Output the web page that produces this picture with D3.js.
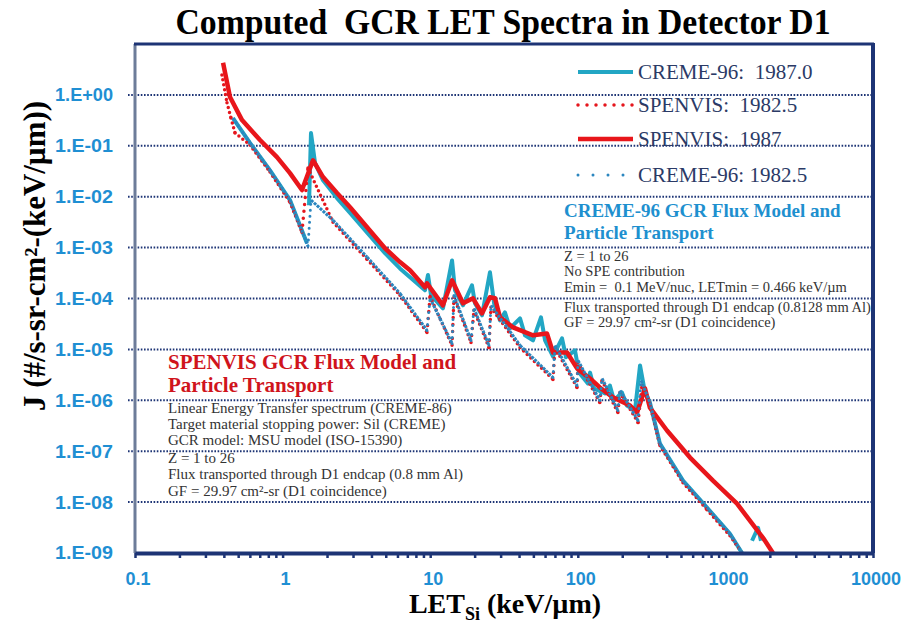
<!DOCTYPE html>
<html>
<head>
<meta charset="utf-8">
<script src="https://cdn.jsdelivr.net/npm/d3@7"></script>
<style>
  body { margin: 0; background: #fff; }
  svg { display: block; }
  text { white-space: pre; }
</style>
</head>
<body>
<svg id="chart" width="904" height="625"></svg>
<script>
var title = "Computed  GCR LET Spectra in Detector D1";
var xTicks = [ 0.1, 1, 10, 100, 1000, 10000 ];
var xTickLabels = [ "0.1", "1", "10", "100", "1000", "10000" ];
var yTicks = [ 1, 1e-1, 1e-2, 1e-3, 1e-4, 1e-5, 1e-6, 1e-7, 1e-8, 1e-9 ];
var yTickLabels = [ "1.E+00", "1.E-01", "1.E-02", "1.E-03", "1.E-04", "1.E-05", "1.E-06", "1.E-07", "1.E-08", "1.E-09" ];
var seriesNames = [ "CREME-96:  1987.0", "SPENVIS:  1982.5", "SPENVIS:  1987", "CREME-96: 1982.5" ];

// [LET keV/um, J] ; null = gap in the line
var creme1987 = [
    [ 0.461, 0.35 ], [ 0.601, 0.114 ], [ 0.822, 0.033 ], [ 1.122, 0.0086 ], [ 1.463, 0.00122 ], null,
    [ 1.51, 0.0068 ], [ 1.557, 0.179 ], [ 1.659, 0.046 ], [ 1.879, 0.021 ], [ 2.337, 0.0094 ], [ 2.864, 0.0048 ],
    [ 4.94, 7.8e-4 ], [ 6.24, 3.9e-4 ], [ 9.22, 1.45e-4 ], [ 9.66, 2.9e-4 ], [ 10.13, 1.16e-4 ], [ 12.2, 6.4e-5 ],
    [ 14.06, 5.6e-4 ], [ 14.72, 1.45e-4 ], [ 16.67, 7.35e-5 ], [ 19.19, 1.82e-4 ], [ 20.1, 8.05e-5 ], [ 22.44, 4.67e-5 ],
    [ 25.4, 3.28e-4 ], [ 27.1, 8.05e-5 ], [ 29.7, 3.72e-5 ], [ 32.1, 5.35e-5 ], [ 34.7, 2.59e-5 ], [ 40.6, 4.07e-5 ],
    [ 43.9, 1.89e-5 ], [ 49.7, 1.5e-5 ], [ 56.3, 4.27e-5 ], [ 60.0, 1.5e-5 ], [ 67.9, 7.3e-6 ], [ 78.2, 1.65e-5 ],
    [ 83.2, 7.0e-6 ], [ 95.7, 9.6e-6 ], [ 101.9, 3.5e-6 ], [ 117, 2.14e-6 ], [ 121, 3.5e-6 ], [ 129, 1.71e-6 ],
    [ 153, 1.36e-6 ], [ 165, 1.95e-6 ], [ 176, 9.9e-7 ], [ 199, 1.43e-6 ], [ 215, 7.9e-7 ], [ 244, 6.3e-7 ],
    [ 264, 4.84e-6 ], [ 285, 1.43e-6 ], [ 308, 9.05e-7 ], [ 360, 1.41e-7 ], [ 516, 2.64e-8 ], [ 750, 7.8e-9 ],
    [ 1074, 2.39e-9 ], [ 1297, 1e-9 ], null,
    [ 1515, 1.74e-9 ], [ 1663, 3.13e-9 ], [ 1742, 1.74e-9 ]
];
var spenvis1982 = [
    [ 0.388, 2.47 ], [ 0.42, 0.70 ], [ 0.447, 0.35 ], [ 0.476, 0.179 ], [ 0.601, 0.104 ], [ 0.822, 0.0305 ],
    [ 1.122, 0.0078 ], [ 1.353, 0.0020 ], [ 1.486, 0.0366 ], [ 2.195, 0.00316 ], [ 3.733, 5.9e-4 ], [ 6.24, 1.16e-4 ],
    [ 9.51, 2.16e-5 ], [ 9.98, 1.1e-4 ], [ 14.06, 1.2e-5 ], [ 14.49, 1.06e-4 ], [ 18.9, 1.37e-5 ], [ 19.8, 5.86e-5 ],
    [ 25.0, 1.09e-5 ], [ 25.8, 6.7e-5 ], [ 40.6, 1.09e-5 ], [ 67.9, 2.57e-6 ], [ 70.1, 1.09e-5 ], [ 98.8, 1.79e-6 ],
    [ 100.3, 5.55e-6 ], [ 141, 9.05e-7 ], [ 146, 2.45e-6 ], [ 187, 5.75e-7 ], [ 193, 1.43e-6 ], [ 256, 3.66e-7 ],
    [ 272, 1.95e-6 ], [ 308, 8.3e-7 ], [ 360, 1.29e-7 ], [ 516, 2.41e-8 ], [ 750, 7.1e-9 ], [ 1074, 2.18e-9 ],
    [ 1297, 1e-9 ]
];
var spenvis1987 = [
    [ 0.395, 4.27 ], [ 0.44, 0.91 ], [ 0.531, 0.32 ], [ 0.703, 0.13 ], [ 0.916, 0.060 ], [ 1.122, 0.029 ],
    [ 1.353, 0.0135 ], [ 1.607, 0.052 ], [ 1.879, 0.0243 ], [ 2.337, 0.0118 ], [ 2.864, 0.0062 ], [ 4.94, 9.7e-4 ],
    [ 6.24, 5.2e-4 ], [ 7.3, 3.6e-4 ], [ 9.22, 1.66e-4 ], [ 9.51, 1.99e-4 ], [ 12.2, 7.35e-5 ], [ 14.06, 2.28e-4 ],
    [ 16.67, 8.05e-5 ], [ 19.5, 1.01e-4 ], [ 22.44, 5.1e-5 ], [ 25.4, 1.06e-4 ], [ 27.5, 1.01e-4 ], [ 29.7, 4.27e-5 ],
    [ 36.4, 2.71e-5 ], [ 49.7, 1.89e-5 ], [ 61.8, 2.06e-5 ], [ 67.9, 8.7e-6 ], [ 84.6, 8.7e-6 ], [ 98.8, 4.23e-6 ],
    [ 121, 2.69e-6 ], [ 141, 1.79e-6 ], [ 173, 1.14e-6 ], [ 226, 7.9e-7 ], [ 252, 5.75e-7 ], [ 285, 1.71e-6 ],
    [ 308, 7.2e-7 ], [ 402, 2.55e-7 ], [ 576, 7.5e-8 ], [ 824, 2.64e-8 ], [ 1199, 9.3e-9 ], [ 1798, 1.99e-9 ],
    [ 2100, 1.0e-9 ]
];
var creme1982 = [
    [ 0.461, 0.35 ], [ 0.601, 0.114 ], [ 0.822, 0.033 ], [ 1.122, 0.0086 ], [ 1.486, 0.00107 ], [ 1.557, 0.0086 ],
    [ 2.195, 0.00346 ], [ 3.733, 6.5e-4 ], [ 6.24, 1.26e-4 ], [ 9.51, 2.36e-5 ], [ 9.98, 1.01e-4 ], [ 11.65, 4.07e-5 ],
    [ 14.06, 1.31e-5 ], [ 14.49, 1.16e-4 ], [ 18.9, 1.5e-5 ], [ 19.8, 6.4e-5 ], [ 25.0, 1.2e-5 ], [ 25.8, 7.35e-5 ],
    [ 40.6, 1.2e-5 ], [ 67.9, 2.81e-6 ], [ 70.1, 1.2e-5 ], [ 98.8, 1.95e-6 ], [ 100.3, 6.07e-6 ], [ 141, 9.9e-7 ],
    [ 146, 2.69e-6 ], [ 187, 6.3e-7 ], [ 193, 1.56e-6 ], [ 256, 4.0e-7 ], [ 268, 2.45e-6 ], [ 308, 9.05e-7 ],
    [ 360, 1.41e-7 ], [ 516, 2.64e-8 ], [ 750, 7.8e-9 ], [ 1074, 2.39e-9 ], [ 1297, 1e-9 ]
];

var cremeHead = [ "CREME-96 GCR Flux Model and", "Particle Transport" ];
var cremeNotes = [ "Z = 1 to 26", "No SPE contribution", "Emin =  0.1 MeV/nuc, LETmin = 0.466 keV/\u00b5m",
    "Flux transported through D1 endcap (0.8128 mm Al)", "GF = 29.97 cm\u00b2-sr (D1 coincidence)" ];
var spenvisHead = [ "SPENVIS GCR Flux Model and", "Particle Transport" ];
var spenvisNotes = [ "Linear Energy Transfer spectrum (CREME-86)", "Target material stopping power: Sil (CREME)",
    "GCR model: MSU model (ISO-15390)", "Z = 1 to 26", "Flux transported through D1 endcap (0.8 mm Al)",
    "GF = 29.97 cm\u00b2-sr (D1 coincidence)" ];

(function () {
    var svg = d3.select( "#chart" );
    var serif = "'Liberation Serif', 'Times New Roman', serif";
    var sans = "'Liberation Sans', Arial, sans-serif";
    var navy = "#1d3475";
    var tickBlue = "#1f8fd3";

    var x = d3.scaleLog().domain( [ 0.1, 10000 ] ).range( [ 135, 873 ] );
    var y = d3.scaleLog().domain( [ 1e-9, 10 ] ).range( [ 553, 44 ] );

    // dash: falling segments, jump: rising segments (sparser, like the excel dots)
    var styles = [
        { data: creme1987, color: "#22a6c4", width: 4, dash: null, jump: null, legendDash: null },
        { data: spenvis1982, color: "#e5161d", width: 3.5, dash: "0 5", jump: "0 7", legendDash: "0 9" },
        { data: spenvis1987, color: "#e8161b", width: 4.5, dash: null, jump: null, legendDash: null },
        { data: creme1982, color: "#2b86bf", width: 3, dash: "3 1", jump: "0 6", legendDash: "0 15" }
    ];

    // title
    svg.append( "text" )
        .attr( "x", 503 ).attr( "y", 34 )
        .attr( "text-anchor", "middle" )
        .attr( "textLength", 655 ).attr( "lengthAdjust", "spacingAndGlyphs" )
        .style( "font", "bold 35px " + serif )
        .text( title );

    // grid
    svg.append( "g" ).selectAll( "line" )
        .data( yTicks.slice( 0, -1 ) )
        .enter().append( "line" )
        .attr( "x1", 128 ).attr( "x2", 871 )
        .attr( "y1", function ( d ) { return y( d ) } )
        .attr( "y2", function ( d ) { return y( d ) } )
        .style( "stroke", navy ).style( "stroke-width", 2 )
        .style( "stroke-dasharray", "1.6 1.6" );

    // y labels
    svg.append( "g" ).selectAll( "text" )
        .data( yTicks )
        .enter().append( "text" )
        .attr( "x", 113 ).attr( "y", function ( d ) { return y( d ) } )
        .attr( "dy", "0.36em" )
        .attr( "text-anchor", "end" )
        .attr( "textLength", 58 ).attr( "lengthAdjust", "spacingAndGlyphs" )
        .style( "font", "bold 18px " + sans )
        .style( "fill", tickBlue )
        .text( function ( d, i ) { return yTickLabels[ i ] } );

    // series, one path per segment so the dotted ones can mark the jumps
    var line = d3.line()
        .x( function ( d ) { return x( d[ 0 ] ) } )
        .y( function ( d ) { return y( d[ 1 ] ) } );

    styles.forEach( function ( s ) {
        var segs = d3.pairs( s.data ).filter( function ( p ) { return p[ 0 ] && p[ 1 ] } );
        var g = svg.append( "g" )
            .style( "fill", "none" )
            .style( "stroke", s.color )
            .style( "stroke-width", s.width )
            .style( "stroke-linejoin", "round" );
        if ( !s.dash ) {
            // solid: one path per unbroken run
            g.append( "path" )
                .attr( "d", d3.line().defined( function ( d ) { return d } ).x( line.x() ).y( line.y() )( s.data ) )
                .style( "stroke-linecap", "butt" );
            return;
        }
        g.selectAll( "path" )
            .data( segs )
            .enter().append( "path" )
            .attr( "d", function ( p ) { return line( p ) } )
            .style( "stroke-linecap", function ( p ) { return p[ 1 ][ 1 ] > p[ 0 ][ 1 ] || s.dash.indexOf( "0 " ) === 0 ? "round" : "butt" } )
            .style( "stroke-dasharray", function ( p ) { return p[ 1 ][ 1 ] > p[ 0 ][ 1 ] ? s.jump : s.dash } );
    });

    // frame
    svg.append( "line" ).attr( "x1", 135 ).attr( "x2", 135 ).attr( "y1", 44 ).attr( "y2", 553 )
        .style( "stroke", "#6d7c99" ).style( "stroke-width", 3 );
    svg.append( "line" ).attr( "x1", 134 ).attr( "x2", 874 ).attr( "y1", 44 ).attr( "y2", 44 )
        .style( "stroke", navy ).style( "stroke-width", 3 );
    svg.append( "line" ).attr( "x1", 873 ).attr( "x2", 873 ).attr( "y1", 43 ).attr( "y2", 553 )
        .style( "stroke", navy ).style( "stroke-width", 4 );

    var xAxis = d3.axisBottom( x )
        .tickValues( x.ticks() )
        .tickSize( 5 ).tickSizeOuter( 0 )
        .tickFormat( "" );
    var gx = svg.append( "g" )
        .attr( "transform", "translate(0,553)" )
        .call( xAxis );
    gx.select( ".domain" ).style( "stroke", navy ).style( "stroke-width", 4 );
    gx.selectAll( ".tick line" ).style( "stroke", navy ).style( "stroke-width", 2.5 );

    svg.append( "g" ).selectAll( "text" )
        .data( xTicks )
        .enter().append( "text" )
        .attr( "x", function ( d ) { return x( d ) + 3 } )
        .attr( "y", 585 )
        .attr( "text-anchor", "middle" )
        .style( "font", "bold 18px " + sans )
        .style( "fill", tickBlue )
        .text( function ( d, i ) { return xTickLabels[ i ] } );

    // axis titles
    var xt = svg.append( "text" )
        .attr( "x", 505 ).attr( "y", 613 )
        .attr( "text-anchor", "middle" )
        .style( "font", "bold 28px " + serif );
    xt.append( "tspan" ).text( "LET" );
    xt.append( "tspan" ).attr( "dy", 7 ).style( "font-size", "18px" ).text( "Si" );
    xt.append( "tspan" ).attr( "dy", -7 ).text( " (keV/\u00b5m)" );

    svg.append( "text" )
        .attr( "transform", "translate(45,256) rotate(-90)" )
        .attr( "text-anchor", "middle" )
        .attr( "textLength", 310 ).attr( "lengthAdjust", "spacingAndGlyphs" )
        .style( "font", "bold 31px " + serif )
        .text( "J (#/s-sr-cm\u00b2-(keV/\u00b5m))" );

    // legend
    var legend = svg.append( "g" ).selectAll( "g" )
        .data( styles )
        .enter().append( "g" )
        .attr( "transform", function ( d, i ) { return "translate(0," + [ 72, 105, 139, 175 ][ i ] + ")" } );
    legend.append( "line" )
        .attr( "x1", 578 ).attr( "x2", 633 )
        .style( "stroke", function ( s ) { return s.color } )
        .style( "stroke-width", function ( s ) { return s.width } )
        .style( "stroke-dasharray", function ( s ) { return s.legendDash } )
        .style( "stroke-linecap", function ( s ) { return s.legendDash ? "round" : "butt" } );
    legend.append( "text" )
        .attr( "x", 638 ).attr( "y", 7 )
        .style( "font", "21px " + serif )
        .style( "fill", "#2b3a66" )
        .text( function ( d, i ) { return seriesNames[ i ] } );

    // notes
    function notes( x0, head, headY, lines, lineY, color, headSize, size ) {
        var g = svg.append( "g" );
        g.selectAll( "text.head" )
            .data( head )
            .enter().append( "text" )
            .attr( "class", "head" )
            .attr( "x", x0 ).attr( "y", function ( d, i ) { return headY[ i ] } )
            .style( "font", "bold " + headSize + "px " + serif )
            .style( "fill", color )
            .text( function ( d ) { return d } );
        g.selectAll( "text.note" )
            .data( lines )
            .enter().append( "text" )
            .attr( "class", "note" )
            .attr( "x", x0 ).attr( "y", function ( d, i ) { return lineY[ i ] } )
            .style( "font", size + "px " + serif )
            .style( "fill", "#333" )
            .text( function ( d ) { return d } );
    }
    notes( 564, cremeHead, [ 217, 239 ], cremeNotes, [ 261, 276, 292, 312, 327 ], "#1e90cf", 19, 14.5 );
    notes( 168, spenvisHead, [ 369, 392 ], spenvisNotes, [ 413, 429, 445, 463, 479, 496 ], "#d0141c", 21, 15 );
})();
</script>
</body>
</html>
